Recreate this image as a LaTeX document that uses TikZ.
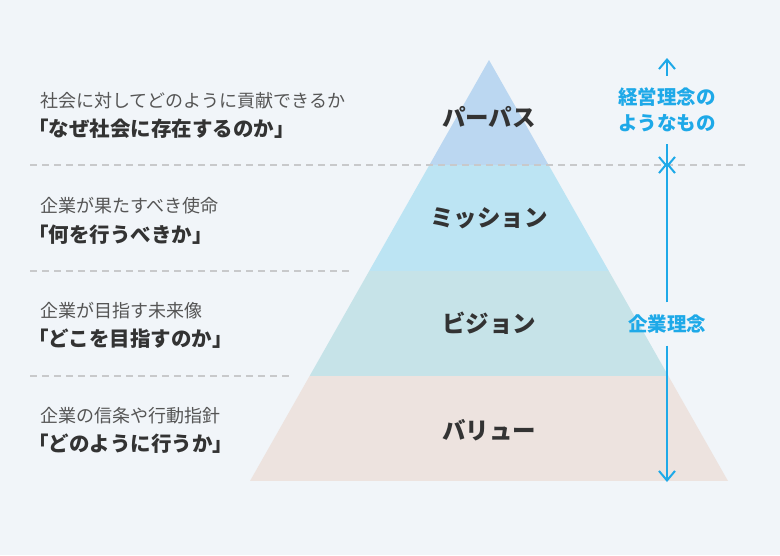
\documentclass[tikz,border=0pt]{standalone}
\usepackage{fontspec}
\setmainfont{Noto Sans CJK JP}
\usetikzlibrary{arrows.meta}
\definecolor{bgcol}{HTML}{F1F5F9}
\definecolor{purposecol}{HTML}{BBD7F1}
\definecolor{missioncol}{HTML}{BCE4F3}
\definecolor{visioncol}{HTML}{C6E3E8}
\definecolor{valuecol}{HTML}{EDE3DF}
\definecolor{linecol}{HTML}{C8C9CB}
\definecolor{bluecol}{HTML}{1EA9E8}
\definecolor{txtcol}{HTML}{333333}
\definecolor{subcol}{HTML}{555555}

\begin{document}
\begin{tikzpicture}[x=1pt,y=-1pt,
  sub/.style={anchor=west,inner sep=0pt,text=subcol,font=\fontsize{18}{18}\selectfont},
  main/.style={anchor=west,inner sep=0pt,text=txtcol,font=\fontsize{20.5}{20.5}\selectfont\bfseries},
  layer/.style={inner sep=0pt,text=txtcol,font=\fontsize{23.5}{23.5}\selectfont\bfseries},
  side/.style={inner xsep=0pt,inner ysep=12pt,text=bluecol,align=center,font=\fontsize{19.5}{26}\selectfont\bfseries},
  sep/.style={linecol,line width=1.5pt,dash pattern=on 7pt off 5pt},
  span/.style={bluecol,line width=2pt,-{Straight Barb[length=9.5pt,width=16pt]}}]
\fill[bgcol] (0,0) rectangle (780,555);
\useasboundingbox (0,0) rectangle (780,555);

\begin{scope}
\clip (489,60) -- (728,481) -- (250,481) -- cycle;
\fill[purposecol] (240,50) rectangle (740,165);
\fill[missioncol] (240,165) rectangle (740,271);
\fill[visioncol] (240,271) rectangle (740,376);
\fill[valuecol] (240,376) rectangle (740,481);
\end{scope}

\draw[sep] (30,165) -- (745,165);
\draw[sep] (30,271) -- (349,271);
\draw[sep] (30,376) -- (289,376);

\node[layer] at (489,117) (purpose) {パーパス};
\node[layer] at (489,218) (mission) {ミッション};
\node[layer] at (489,323) (vision) {ビジョン};
\node[layer] at (489,430) (value) {バリュー};

\node[sub] at (40,101) (purpose1) {社会に対してどのように貢献できるか};
\node[main] at (28,129) (purpose2) {「なぜ社会に存在するのか」};
\node[sub] at (40,206) (mission1) {企業が果たすべき使命};
\node[main] at (28,235) (mission2) {「何を行うべきか」};
\node[sub] at (40,311) (vision1) {企業が目指す未来像};
\node[main] at (28,339) (vision2) {「どこを目指すのか」};
\node[sub] at (40,416) (value1) {企業の信条や行動指針};
\node[main] at (28,444) (value2) {「どのように行うか」};

\node[side] at (667,110) (idea) {経営理念の\\ようなもの};
\node[side] at (667,324) (corp) {企業理念};
\coordinate (ideatop) at (667,58);
\coordinate (split) at (667,165);
\coordinate (corpbot) at (667,482);

\draw[span] (idea.north) -- (ideatop);
\draw[span,shorten >=-3pt] (idea.south) -- (split);
\draw[span,shorten >=-3pt] (corp.north) -- (split);
\draw[span] (corp.south) -- (corpbot);
\end{tikzpicture}
\end{document}
